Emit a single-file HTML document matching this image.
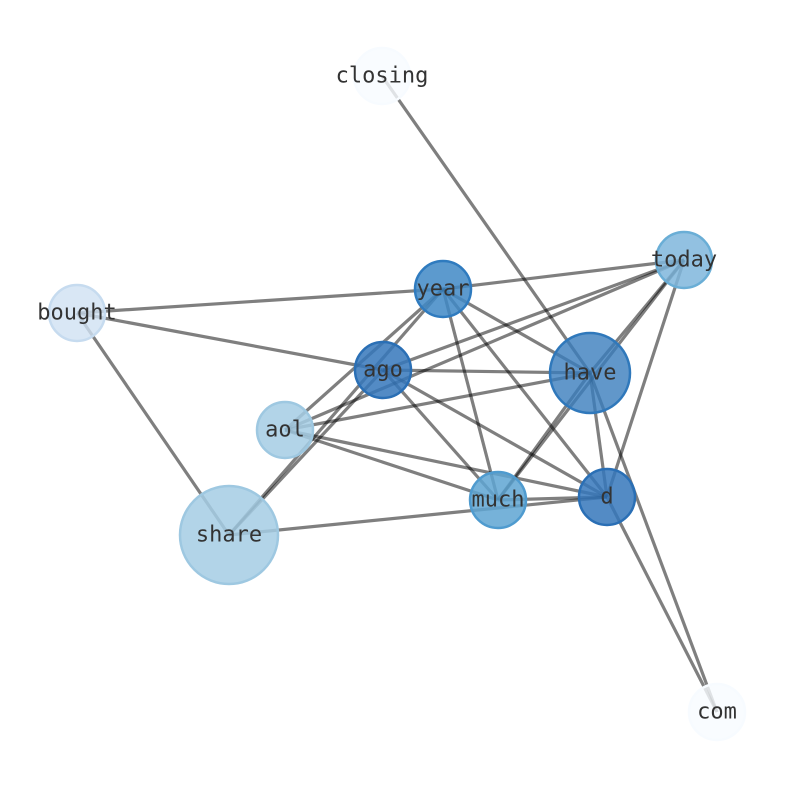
<!DOCTYPE html>
<html><head><meta charset="utf-8"><style>html,body{margin:0;background:#fff}</style></head>
<body>
<svg width="794" height="790" viewBox="0 0 794 790" xmlns="http://www.w3.org/2000/svg">
<g stroke="#000" stroke-opacity="0.5" stroke-width="3.2" fill="none">
<line x1="382" y1="76" x2="590" y2="373"/>
<line x1="684" y1="260" x2="443" y2="289"/>
<line x1="684" y1="260" x2="383" y2="370"/>
<line x1="684" y1="260" x2="590" y2="373"/>
<line x1="684" y1="260" x2="498" y2="500"/>
<line x1="684" y1="260" x2="607" y2="497"/>
<line x1="684" y1="260" x2="285" y2="430"/>
<line x1="77" y1="313" x2="443" y2="289"/>
<line x1="77" y1="313" x2="383" y2="370"/>
<line x1="77" y1="313" x2="229" y2="535"/>
<line x1="229" y1="535" x2="443" y2="289"/>
<line x1="229" y1="535" x2="383" y2="370"/>
<line x1="229" y1="535" x2="607" y2="497"/>
<line x1="443" y1="289" x2="590" y2="373"/>
<line x1="443" y1="289" x2="498" y2="500"/>
<line x1="443" y1="289" x2="607" y2="497"/>
<line x1="443" y1="289" x2="285" y2="430"/>
<line x1="383" y1="370" x2="590" y2="373"/>
<line x1="383" y1="370" x2="498" y2="500"/>
<line x1="383" y1="370" x2="607" y2="497"/>
<line x1="285" y1="430" x2="590" y2="373"/>
<line x1="285" y1="430" x2="498" y2="500"/>
<line x1="285" y1="430" x2="607" y2="497"/>
<line x1="590" y1="373" x2="607" y2="497"/>
<line x1="590" y1="373" x2="717" y2="712"/>
<line x1="590" y1="373" x2="498" y2="500"/>
<line x1="498" y1="500" x2="607" y2="497"/>
<line x1="607" y1="497" x2="717" y2="712"/>
</g>
<g stroke-width="2.5">
<circle cx="382" cy="76" r="28" fill="#f7fbff" stroke="#f7fbff" fill-opacity="0.8"/>
<circle cx="717" cy="712" r="28" fill="#f7fbff" stroke="#f7fbff" fill-opacity="0.8"/>
<circle cx="77" cy="313" r="28" fill="#d0e1f2" stroke="#c6dbef" fill-opacity="0.8"/>
<circle cx="684" cy="260" r="28" fill="#7fb6dc" stroke="#6aaed6" fill-opacity="0.85"/>
<circle cx="443" cy="289" r="28" fill="#3f88c5" stroke="#2f7bbf" fill-opacity="0.85"/>
<circle cx="383" cy="370" r="28" fill="#3577bb" stroke="#2a6fb5" fill-opacity="0.85"/>
<circle cx="590" cy="373" r="40" fill="#3a7dbd" stroke="#2f78bb" fill-opacity="0.8"/>
<circle cx="285" cy="430" r="28" fill="#a5cce4" stroke="#9ec8e1" fill-opacity="0.85"/>
<circle cx="498" cy="500" r="28" fill="#5ea4d2" stroke="#4f9bcf" fill-opacity="0.85"/>
<circle cx="607" cy="497" r="28" fill="#3577bb" stroke="#2a6fb5" fill-opacity="0.85"/>
<circle cx="229" cy="535" r="49" fill="#a5cce4" stroke="#9ec8e1" fill-opacity="0.85"/>
</g>
<g font-family="DejaVu Sans Mono, Liberation Mono, monospace" font-size="22" fill="#333" text-anchor="middle" dominant-baseline="central">
<text x="382" y="76">closing</text>
<text x="684" y="260">today</text>
<text x="77" y="313">bought</text>
<text x="443" y="289">year</text>
<text x="383" y="370">ago</text>
<text x="590" y="373">have</text>
<text x="285" y="430">aol</text>
<text x="498" y="500">much</text>
<text x="607" y="497">d</text>
<text x="229" y="535">share</text>
<text x="717" y="712">com</text>
</g>
</svg>
</body></html>
